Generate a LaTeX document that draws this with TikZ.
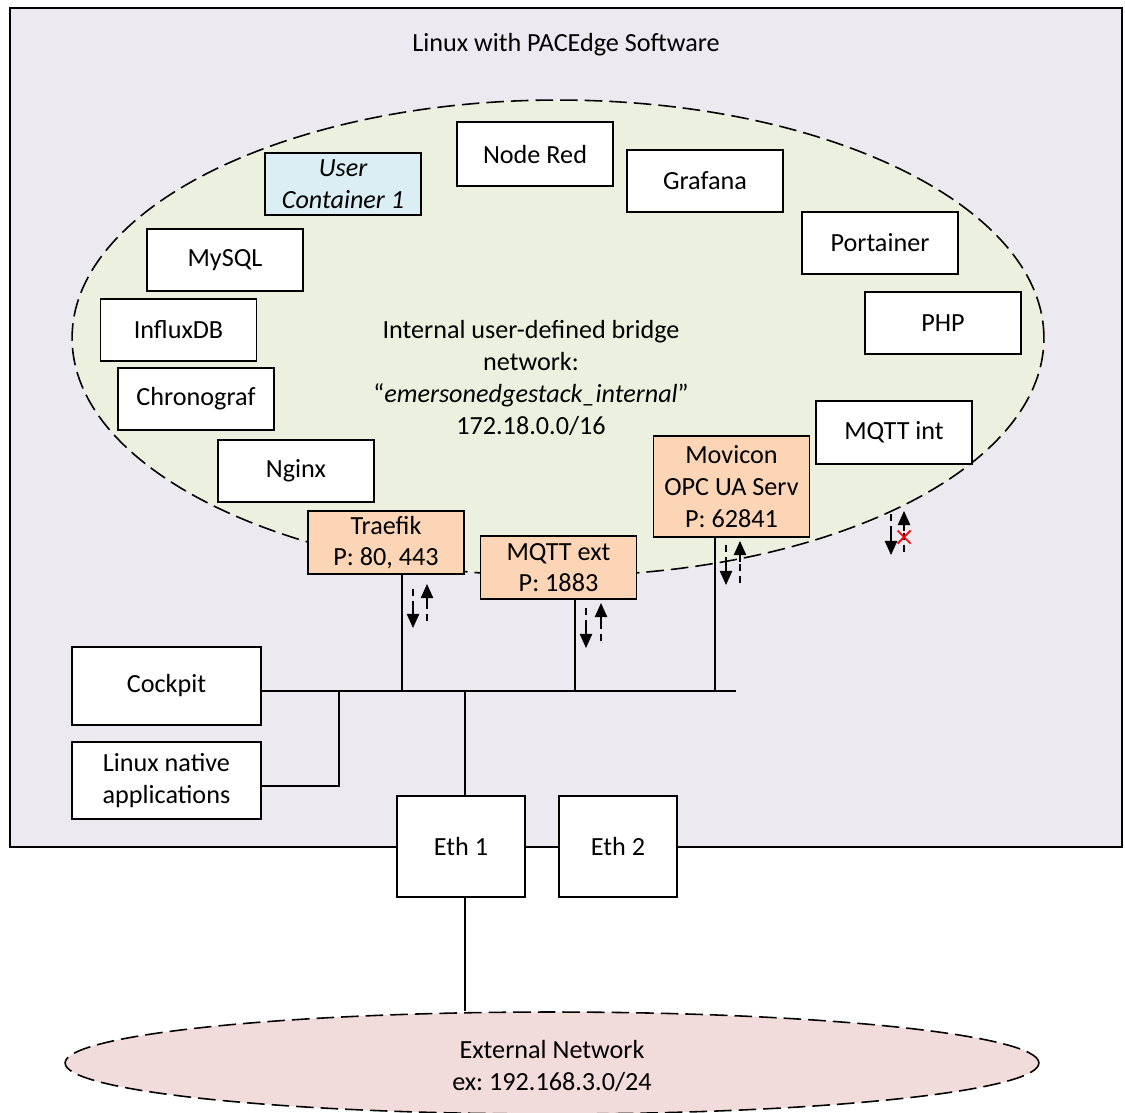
\documentclass[tikz,border=0pt]{standalone}
\usepackage{fontspec}
\setmainfont{Carlito}
\usetikzlibrary{shapes.geometric,arrows.meta}
\definecolor{outerbg}{RGB}{236,233,240}
\definecolor{innerbg}{RGB}{235,241,222}
\definecolor{orangebg}{RGB}{251,213,181}
\definecolor{bluebg}{RGB}{218,238,243}
\definecolor{pinkbg}{RGB}{242,220,219}
\frenchspacing
\begin{document}
\begin{tikzpicture}[x=0.02cm,y=-0.02cm,
  font=\fontsize{14.9pt}{18.1pt}\selectfont,
  box/.style={draw,line width=0.8pt,fill=white,minimum width=3.12cm,minimum height=1.24cm,inner sep=0pt,align=center},
  portbox/.style={box,fill=orangebg},
  wire/.style={line width=0.8pt},
  net/.style={draw,line width=0.9pt,dash pattern=on 10pt off 4pt,ellipse,inner sep=0pt},
  hd/.style={-{Triangle[length=8pt,width=7pt]},line width=0.8pt},
  dsh/.style={line width=0.8pt,dash pattern=on 4pt off 3pt}]
\useasboundingbox (0,0) rectangle (1125,1112);
\begin{scope}
\clip (0,0) rectangle (1125,1112);
% outer Linux box
\node[draw,line width=0.8pt,fill=outerbg,minimum width=22.24cm,minimum height=16.78cm,inner sep=0pt] (linux) at (566,427.5) {};
\node (title) at (566,45) {Linux with PACEdge Software};
% internal network ellipse
\node[net,fill=innerbg,minimum width=19.44cm,minimum height=9.52cm] (int) at (558,338) {};
\node[align=center] (inttext) at (531,378) {Internal user-defined bridge\\network:\\“\textit{emersonedgestack\_internal}”\\172.18.0.0/16};
% external network ellipse
\node[net,fill=pinkbg,minimum width=19.48cm,minimum height=2.04cm,align=center] (ext) at (552,1063) {};
\node[align=center] (exttext) at (552,1066) {External Network\\ex: 192.168.3.0/24};
\end{scope}

% coordinates for the wiring
\coordinate (busend) at (736,691);
\coordinate (tx) at (402,691);
\coordinate (mx) at (575,691);
\coordinate (ox) at (715,691);
\coordinate (ex) at (465,691);
\coordinate (j2) at (339,786);

% containers
\node[box,fill=bluebg,font=\fontsize{14.9pt}{18.1pt}\selectfont\itshape] (uc) at (343,184) {User\\Container 1};
\node[box,minimum height=1.28cm] (nodered) at (535,154) {Node Red};
\node[box] (grafana) at (705,181) {Grafana};
\node[box] (portainer) at (880,243) {Portainer};
\node[box] (mysql) at (225,260) {MySQL};
\node[box] (influx) at (178.5,330) {InfluxDB};
\node[box] (php) at (943,323) {PHP};
\node[box] (chrono) at (196,399) {Chronograf};
\node[box,minimum height=1.26cm] (mqttint) at (894,432.5) {MQTT int};
\node[box] (nginx) at (296,471) {Nginx};
\node[portbox,minimum height=2.02cm] (movicon) at (731.5,486.5) {Movicon\\OPC UA Serv\\P: 62841};
\node[portbox,minimum height=1.26cm] (traefik) at (386,542.5) {Traefik\\P: 80, 443};
\node[portbox,minimum height=1.26cm] (mqttext) at (558.5,567.5) {MQTT ext\\P: 1883};

% host side
\node[box,minimum width=3.78cm,minimum height=1.56cm] (cockpit) at (166.5,686) {Cockpit};
\node[box,minimum width=3.78cm,minimum height=1.54cm] (native) at (166.5,780.5) {Linux native\\applications};
\node[box,minimum width=2.56cm,minimum height=2.02cm] (eth1) at (461,846.5) {Eth 1};
\node[box,minimum width=2.36cm,minimum height=2.02cm] (eth2) at (618,846.5) {Eth 2};

% wiring
\draw[wire] (cockpit.east |- busend) -- (busend);
\draw[wire] (native.east |- j2) -- (j2) -- (j2 |- busend);
\draw[wire] (tx |- traefik.south) -- (tx);
\draw[wire] (mx |- mqttext.south) -- (mx);
\draw[wire] (ox |- movicon.south) -- (ox);
\draw[wire] (ex) -- (ex |- eth1.north);
\draw[wire] (ex |- eth1.south) -- (ex |- ext.north);
\draw[wire] (eth1.east) -- (eth2.west);

% traffic arrows
\coordinate (ta1) at (413,589); \coordinate (ta2) at (413,608); \coordinate (ta3) at (413,628);
\coordinate (tb1) at (427,621); \coordinate (tb2) at (427,602); \coordinate (tb3) at (427,584);
\draw[dsh] (ta1) -- (ta2); \draw[hd] (ta2) -- (ta3);
\draw[dsh] (tb1) -- (tb2); \draw[hd] (tb2) -- (tb3);

\coordinate (ma1) at (586,608); \coordinate (ma2) at (586,627); \coordinate (ma3) at (586,648);
\coordinate (mb1) at (601,641); \coordinate (mb2) at (601,622); \coordinate (mb3) at (601,603);
\draw[dsh] (ma1) -- (ma2); \draw[hd] (ma2) -- (ma3);
\draw[dsh] (mb1) -- (mb2); \draw[hd] (mb2) -- (mb3);

\coordinate (oa1) at (726,545); \coordinate (oa2) at (726,564); \coordinate (oa3) at (726,585);
\coordinate (ob1) at (740,583); \coordinate (ob2) at (740,562); \coordinate (ob3) at (740,541);
\draw[dsh] (oa1) -- (oa2); \draw[hd] (oa2) -- (oa3);
\draw[dsh] (ob1) -- (ob2); \draw[hd] (ob2) -- (ob3);

\coordinate (qa1) at (891,514); \coordinate (qa2) at (891,533); \coordinate (qa3) at (891,555);
\coordinate (qb1) at (904,552); \coordinate (qb2) at (904,531); \coordinate (qb3) at (904,511);
\draw[dsh] (qa1) -- (qa2); \draw[hd] (qa2) -- (qa3);
\draw[dsh] (qb1) -- (qb2); \draw[hd] (qb2) -- (qb3);
\coordinate (xc) at (904,537);
\draw[red,line width=1pt] ([xshift=-0.13cm,yshift=-0.13cm]xc) -- ([xshift=0.13cm,yshift=0.13cm]xc);
\draw[red,line width=1pt] ([xshift=-0.13cm,yshift=0.13cm]xc) -- ([xshift=0.13cm,yshift=-0.13cm]xc);
\end{tikzpicture}
\end{document}
